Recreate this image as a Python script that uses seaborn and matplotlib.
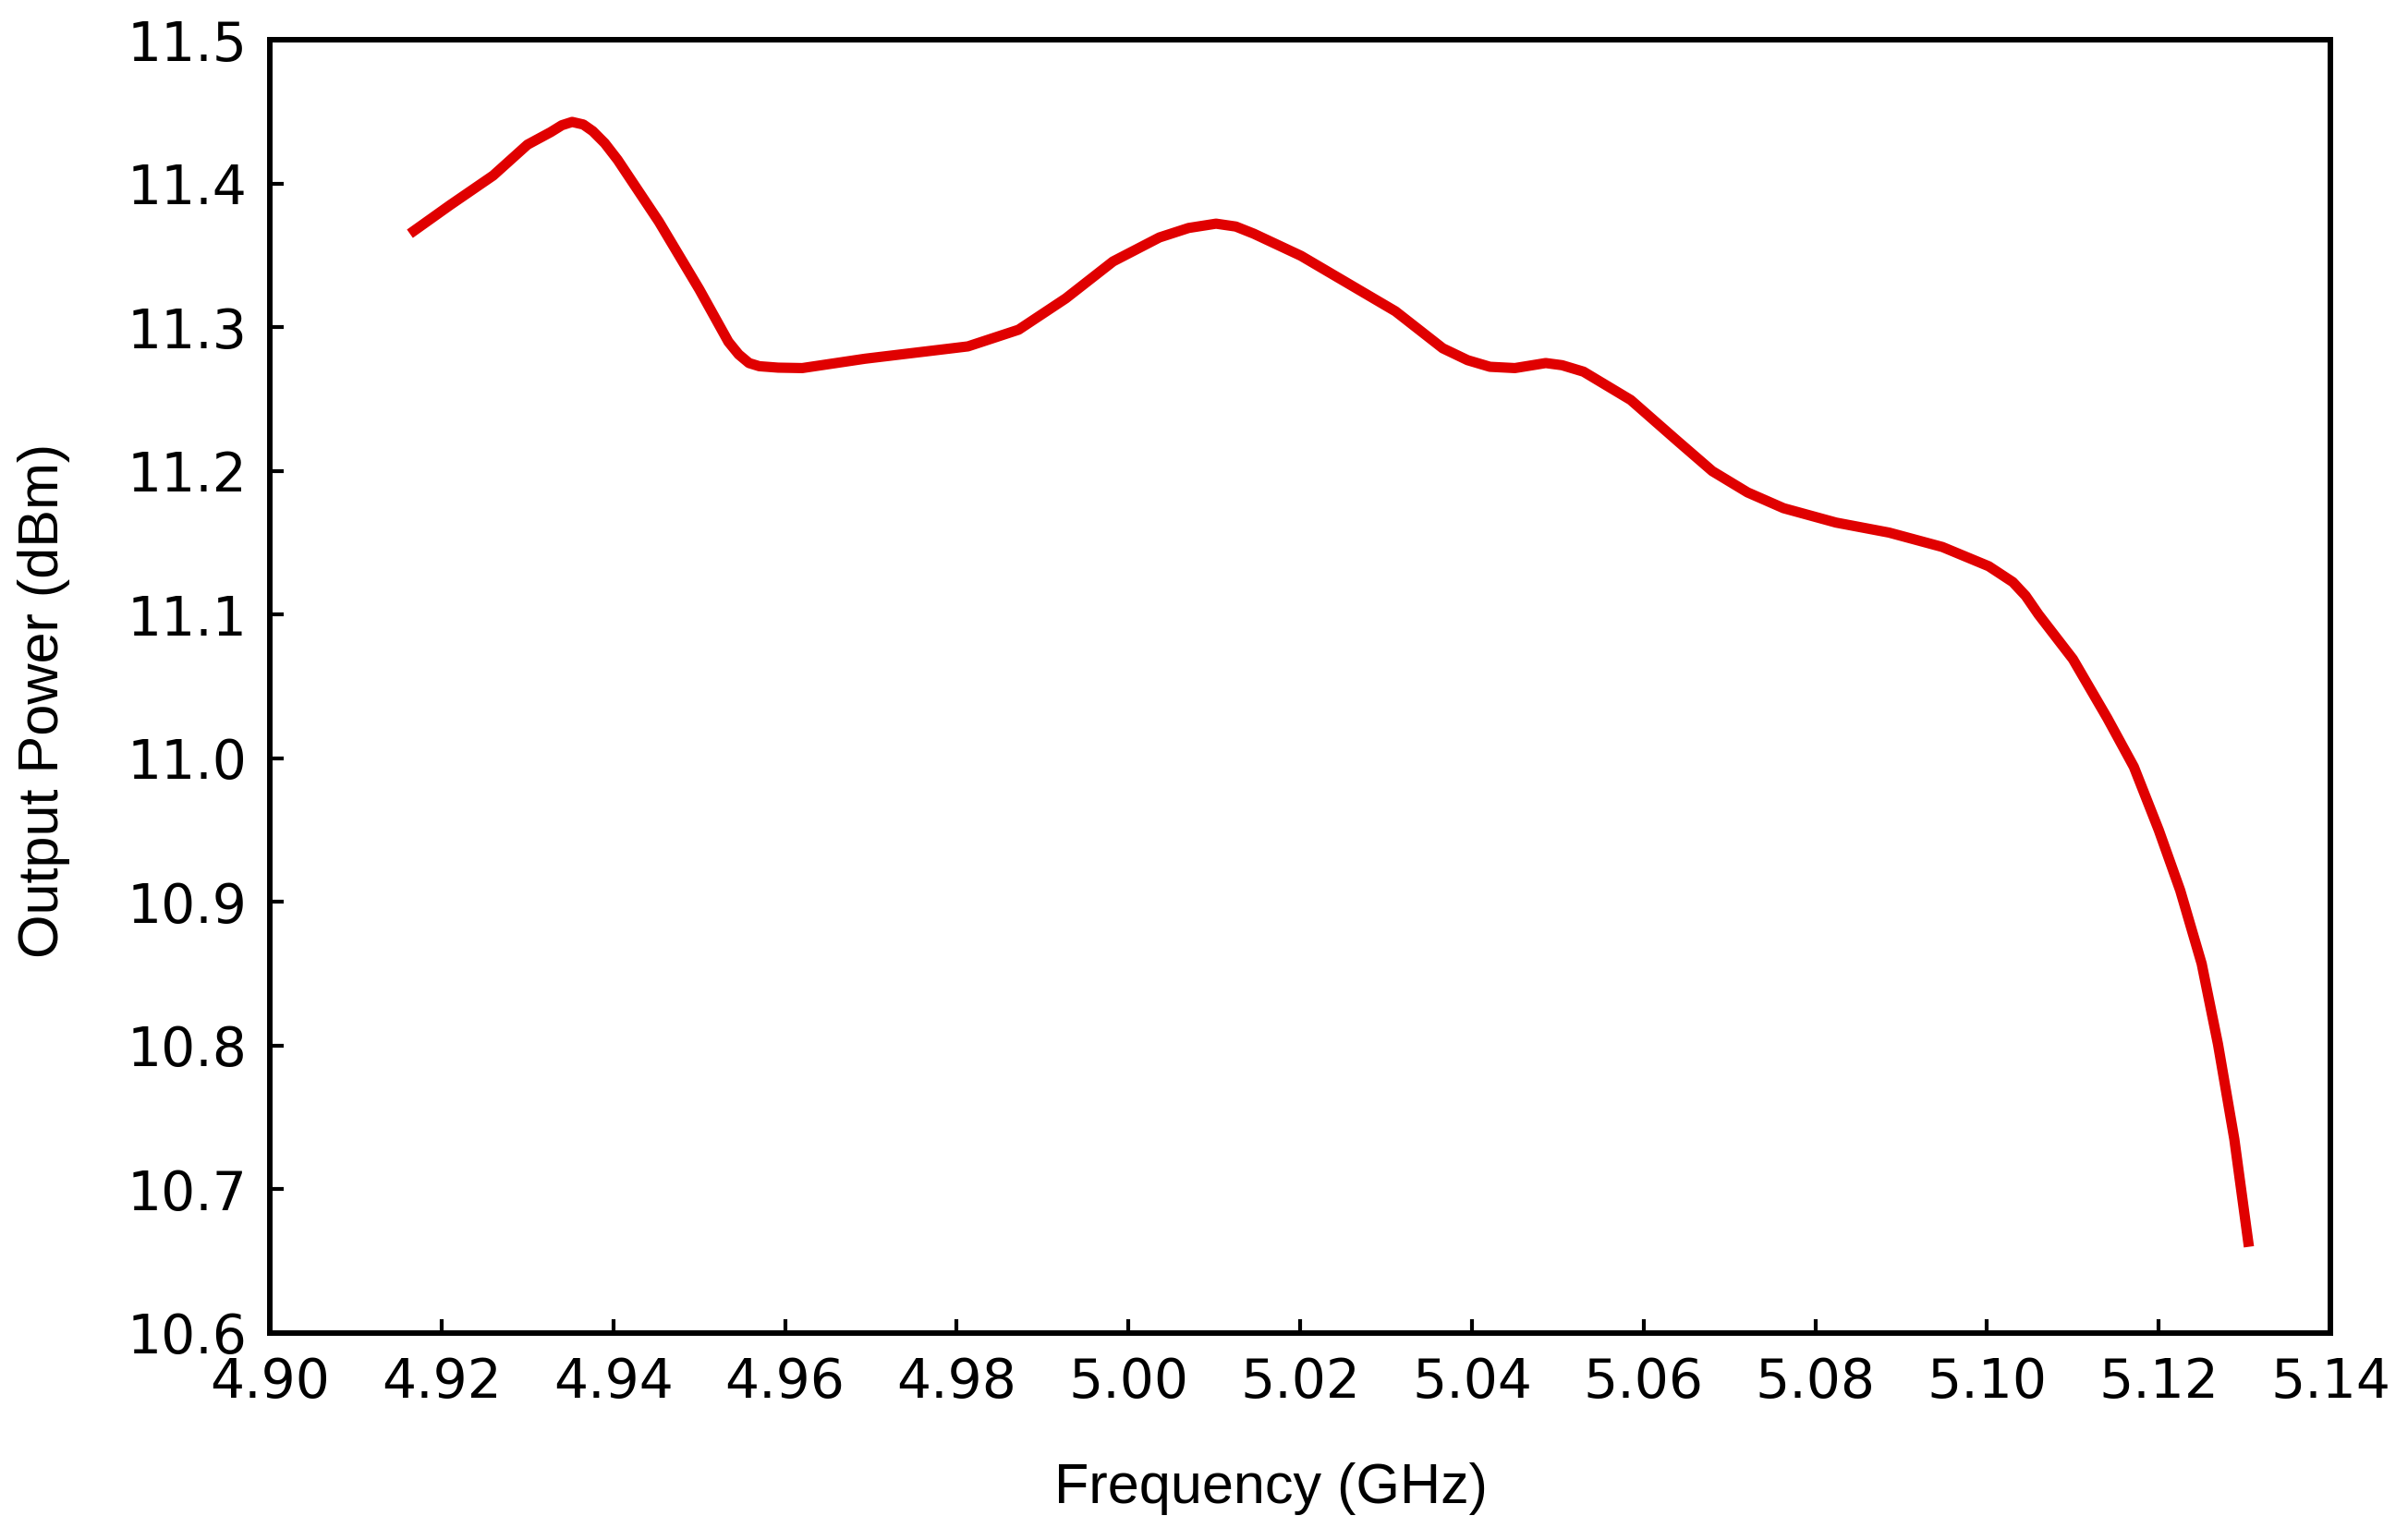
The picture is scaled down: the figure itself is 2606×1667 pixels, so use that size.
import matplotlib
matplotlib.use('Agg')
import matplotlib.pyplot as plt
import seaborn as sns
import pandas as pd

# 데이터
freq = [4.9163, 4.9210, 4.9260, 4.9300, 4.9327, 4.9340, 4.9352, 4.9365, 4.9376,
        4.9390, 4.9405, 4.9453, 4.9500, 4.9534, 4.9546, 4.9558, 4.9570, 4.9592,
        4.9620, 4.9693, 4.9813, 4.9872, 4.9927, 4.9982, 5.0036, 5.0070, 5.0102,
        5.0125, 5.0146, 5.0201, 5.0256, 5.0311, 5.0366, 5.0395, 5.0421, 5.0450,
        5.0486, 5.0505, 5.0530, 5.0585, 5.0639, 5.0680, 5.0721, 5.0763, 5.0824,
        5.0886, 5.0948, 5.1002, 5.1030, 5.1045, 5.1060, 5.1100, 5.1140, 5.1171,
        5.1200, 5.1225, 5.1250, 5.1269, 5.1288, 5.1305]
power = [11.365, 11.385, 11.4055, 11.427, 11.4357, 11.4405, 11.4428, 11.441,
         11.4364, 11.428, 11.4164, 11.3734, 11.3264, 11.2898, 11.281, 11.275,
         11.2728, 11.2718, 11.2715, 11.278, 11.2866, 11.2982, 11.320, 11.3457,
         11.3624, 11.369, 11.372, 11.370, 11.365, 11.3496, 11.3303, 11.311,
         11.2853, 11.277, 11.2724, 11.2715, 11.275, 11.2735, 11.269, 11.2493,
         11.221, 11.1998, 11.185, 11.174, 11.164, 11.157, 11.147, 11.1336,
         11.1226, 11.113, 11.100, 11.069, 11.028, 10.994, 10.950, 10.908,
         10.857, 10.801, 10.735, 10.660]
xticks = [4.90, 4.92, 4.94, 4.96, 4.98, 5.00, 5.02, 5.04, 5.06, 5.08, 5.10, 5.12, 5.14]
yticks = [10.6, 10.7, 10.8, 10.9, 11.0, 11.1, 11.2, 11.3, 11.4, 11.5]

df = pd.DataFrame({'Frequency': freq, 'Power': power})

sns.set_theme(style='ticks')
plt.rcParams['font.family'] = ['DejaVu Sans']

fig = plt.figure(figsize=(26.06, 16.67), dpi=100)
ax = fig.add_axes([0.1121, 0.1344, 0.8557, 0.8398])

sns.lineplot(data=df, x='Frequency', y='Power', ax=ax, color='#e00000',
             linewidth=8, estimator=None, sort=False,
             solid_joinstyle='round', solid_capstyle='butt')

ax.set_xlim(4.90, 5.14)
ax.set_ylim(10.6, 11.5)
ax.set_xticks(xticks)
ax.set_yticks(yticks)
ax.set_xticklabels([f'{t:.2f}' for t in xticks])
ax.set_yticklabels([f'{t:.1f}' for t in yticks])
ax.tick_params(axis='both', direction='in', length=11, width=3, labelsize=42,
               pad=18, colors='black', top=False, right=False)

for s in ax.spines.values():
    s.set_visible(True)
    s.set_linewidth(4.3)
    s.set_color('black')

ax.set_xlabel('Frequency (GHz)', fontsize=44, family='Liberation Sans',
              color='black', va='center', ha='center')
ax.set_ylabel('Output Power (dBm)', fontsize=44, family='Liberation Sans',
              color='black', va='center', ha='center')
ax.xaxis.set_label_coords(0.486, -0.1207)
ax.yaxis.set_label_coords(-0.1099, 0.489)

fig.savefig('out.png', dpi=100, facecolor='white')
